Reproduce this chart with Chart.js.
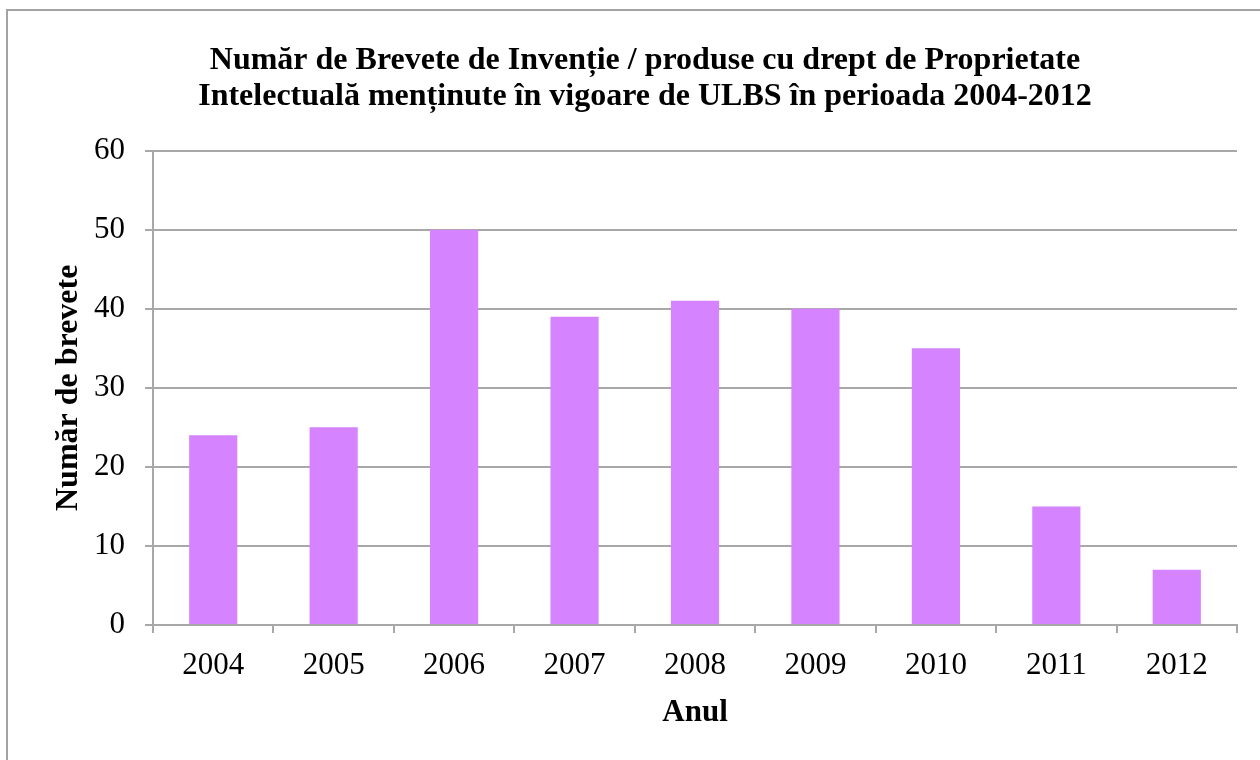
<!DOCTYPE html>
<html>
<head>
<meta charset="utf-8">
<script src="https://cdn.jsdelivr.net/npm/chart.js@4.4.0/dist/chart.umd.min.js"></script>
<style>
  html, body { margin: 0; padding: 0; background: #fff; overflow: hidden; }
  #wrap { position: relative; width: 1260px; height: 760px; }
  #frame { position: absolute; left: 6px; top: 9px; width: 1300px; height: 800px;
           border: 2px solid #a3a3a3; box-sizing: border-box; pointer-events: none; }
  canvas { position: absolute; left: 0; top: 0; }
</style>
</head>
<body>
<div id="wrap">
  <canvas id="chart" width="1260" height="760"></canvas>
  <div id="frame"></div>
</div>
<script>
// Data
const years = ['2004', '2005', '2006', '2007', '2008', '2009', '2010', '2011', '2012'];
const patents = [24, 25, 50, 39, 41, 40, 35, 15, 7];
const yTicks = [0, 10, 20, 30, 40, 50, 60];
const titleLines = [
  'Număr de Brevete de Invenție / produse cu drept de Proprietate',
  'Intelectuală menținute în vigoare de ULBS în perioada 2004-2012'
];
const yTitle = 'Număr de brevete';
const xTitle = 'Anul';

const SERIF = "'Liberation Serif', 'Times New Roman', Times, serif";
const GRID = '#a8a8a8';

new Chart(document.getElementById('chart'), {
  type: 'bar',
  data: {
    labels: years,
    datasets: [{
      data: patents,
      backgroundColor: '#d683ff',
      borderWidth: 0,
      barPercentage: 0.4,
      categoryPercentage: 1
    }]
  },
  options: {
    responsive: false,
    devicePixelRatio: 1,
    animation: false,
    layout: { padding: { left: 53, right: 23, top: 0, bottom: 0 } },
    plugins: {
      legend: { display: false },
      tooltip: { enabled: false },
      title: {
        display: true,
        text: titleLines,
        color: '#000',
        font: { family: SERIF, size: 32, weight: 'bold', lineHeight: 1.15 },
        padding: { top: 42, bottom: 35 }
      }
    },
    scales: {
      x: {
        grid: { display: true, drawOnChartArea: false, drawTicks: true, tickLength: 8, color: GRID, lineWidth: 2, offset: true },
        border: { display: true, color: GRID, width: 2 },
        ticks: { color: '#000', font: { family: SERIF, size: 31 }, padding: 14 },
        title: { display: true, text: xTitle, color: '#000',
                 font: { family: SERIF, size: 31, weight: 'bold', lineHeight: 1 },
                 padding: { top: 0, bottom: 32 } },
        afterFit: s => { s.height = 135; }
      },
      y: {
        min: 0,
        max: 60,
        afterBuildTicks: s => { s.ticks = yTicks.map(v => ({ value: v })); },
        grid: { color: GRID, lineWidth: 2, drawTicks: true, tickLength: 8 },
        border: { display: true, color: GRID, width: 2 },
        ticks: { color: '#000', font: { family: SERIF, size: 31 }, padding: 20 },
        title: { display: true, text: yTitle, color: '#000',
                 font: { family: SERIF, size: 32, weight: 'bold', lineHeight: 1 },
                 padding: { top: 0, bottom: 0 } },
        afterFit: s => { s.width = 100; }
      }
    }
  }
});
</script>
</body>
</html>
